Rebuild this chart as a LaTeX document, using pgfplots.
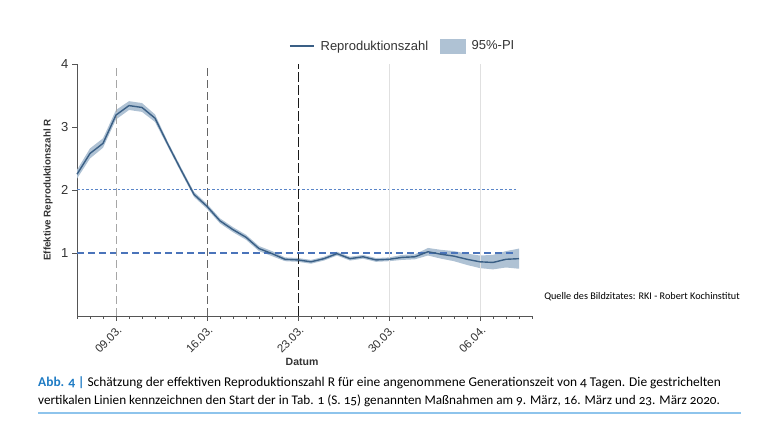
\documentclass[border=0pt]{standalone}
\usepackage{pgfplots}
\pgfplotsset{compat=1.18}
\usepgfplotslibrary{fillbetween}
\usepackage{pgfplotstable}
\usepackage{fontspec}
\setmainfont{Liberation Sans}
\newfontfamily\capfont[Numbers=OldStyle]{Carlito}
\definecolor{lineblue}{HTML}{3A5F85}
\definecolor{bandblue}{HTML}{AFC2D4}
\definecolor{refblue}{HTML}{5A85C8}
\definecolor{refblue2}{HTML}{4A74BA}
\definecolor{axgray}{HTML}{555555}
\definecolor{txtgray}{HTML}{333333}
\definecolor{capblue}{HTML}{1E7BC4}
\definecolor{rulblue}{HTML}{8EC4EC}
\pgfplotstableread{
d R lo hi
6 2.25 2.18 2.32
7 2.58 2.50 2.66
8 2.74 2.67 2.82
9 3.19 3.12 3.27
10 3.34 3.27 3.41
11 3.31 3.24 3.38
12 3.14 3.08 3.20
13 2.72 2.68 2.76
14 2.32 2.28 2.36
15 1.93 1.89 1.97
16 1.74 1.70 1.78
17 1.51 1.47 1.55
18 1.37 1.33 1.41
19 1.25 1.21 1.29
20 1.07 1.03 1.11
21 0.99 0.95 1.03
22 0.90 0.87 0.93
23 0.89 0.86 0.92
24 0.86 0.83 0.89
25 0.91 0.88 0.94
26 0.99 0.96 1.02
27 0.91 0.88 0.94
28 0.94 0.91 0.97
29 0.89 0.86 0.92
30 0.90 0.87 0.93
31 0.93 0.89 0.97
32 0.94 0.90 0.98
33 1.02 0.96 1.08
34 0.98 0.91 1.05
35 0.95 0.87 1.03
36 0.90 0.81 0.99
37 0.86 0.76 0.96
38 0.85 0.74 0.97
39 0.90 0.77 1.03
40 0.91 0.75 1.07
}\rdata
\begin{document}
\begin{tikzpicture}
\begin{axis}[
  at={(77pt,117pt)}, anchor=south west,
  scale only axis, width=455pt, height=252pt,
  xmin=6, xmax=41, ymin=0, ymax=4,
  axis lines=left,
  axis line style={-, draw=axgray, line width=0.8pt},
  xtick={9,16,23,30,37},
  xticklabels={09.03.,16.03.,23.03.,30.03.,06.04.},
  minor xtick={6,...,41},
  ytick={1,2,3,4},
  /pgf/number format/assume math mode=true,
  tick align=outside,
  major tick length=5pt, minor tick length=3pt,
  tick style={axgray, line width=0.6pt},
  x tick label style={rotate=45, anchor=north east, font=\fontsize{11.5}{11.5}\selectfont, text=txtgray, inner sep=1.5pt, yshift=-2pt, xshift=-1pt},
  y tick label style={font=\fontsize{13}{13}\selectfont, text=txtgray},
  clip=false,
  legend style={at={(0.716,1.071)}, anchor=center, draw=none, fill=none,
    legend columns=2, font=\fontsize{13}{13}\selectfont\color{txtgray},
    /tikz/every even column/.append style={column sep=10pt},
    /tikz/every odd column/.append style={column sep=4pt}},
  legend cell align=left,
]
% reference lines
\addplot[forget plot, refblue, line width=1pt, dash pattern=on 2.5pt off 2pt] coordinates {(6,2) (39.8,2)};
\addplot[forget plot, refblue2, line width=1.1pt, dash pattern=on 7pt off 4pt] coordinates {(6,1) (39.8,1)};
\addplot[forget plot, black!12, line width=0.8pt] coordinates {(30,0) (30,4)};
\addplot[forget plot, black!12, line width=0.8pt] coordinates {(37,0) (37,4)};
\addplot[forget plot, black!35, line width=0.8pt, dash pattern=on 8pt off 4pt] coordinates {(9,0) (9,4)};
\addplot[forget plot, black!60, line width=0.8pt, dash pattern=on 8pt off 4pt] coordinates {(16,0) (16,4)};
\addplot[forget plot, black!90, line width=0.9pt, dash pattern=on 10pt off 3pt] coordinates {(23,0) (23,4)};
% band
\addplot[forget plot, draw=none, name path=hi] table[x=d, y=hi] {\rdata};
\addplot[forget plot, draw=none, name path=lo] table[x=d, y=lo] {\rdata};
\addplot[forget plot, fill=bandblue, draw=none] fill between[of=hi and lo];
% line
\addplot[forget plot, lineblue, line width=1.4pt, no marks] table[x=d, y=R] {\rdata};
\addlegendimage{legend image code/.code={\draw[lineblue, line width=1.4pt] (0pt,0pt) -- (24pt,0pt);}}
\addlegendentry{Reproduktionszahl}
\addlegendimage{legend image code/.code={\fill[bandblue] (0pt,-7pt) rectangle (25pt,7pt);}}
\addlegendentry{95\%-PI}
\end{axis}
\node[rotate=90, font=\fontsize{9.8}{9.8}\selectfont\bfseries, text=txtgray] at (48pt,243pt) {Effektive Reproduktionszahl R};
\node[font=\fontsize{10.5}{10.5}\selectfont\bfseries, text=txtgray] at (302pt,71pt) {Datum};
\node[font=\capfont\fontsize{10.2}{10.2}\selectfont] at (642pt,136pt) {Quelle des Bildzitates: RKI - Robert Kochinstitut};
\node[anchor=base west, inner sep=0pt, font=\capfont\fontsize{13.4}{13.4}\selectfont] at (38pt,46pt) {\textcolor{capblue}{\bfseries Abb. 4 |} Schätzung der effektiven Reproduktionszahl R für eine angenommene Generationszeit von 4 Tagen. Die gestrichelten};
\node[anchor=base west, inner sep=0pt, font=\capfont\fontsize{13.2}{13.2}\selectfont] at (38pt,28pt) {vertikalen Linien kennzeichnen den Start der in Tab. 1 (S. 15) genannten Maßnahmen am 9. März, 16. März und 23. März 2020.};
\draw[rulblue, line width=1.2pt] (38pt,20pt) -- (741pt,20pt);
\path (0pt,0pt) rectangle (768pt,433pt);
\end{tikzpicture}
\end{document}
